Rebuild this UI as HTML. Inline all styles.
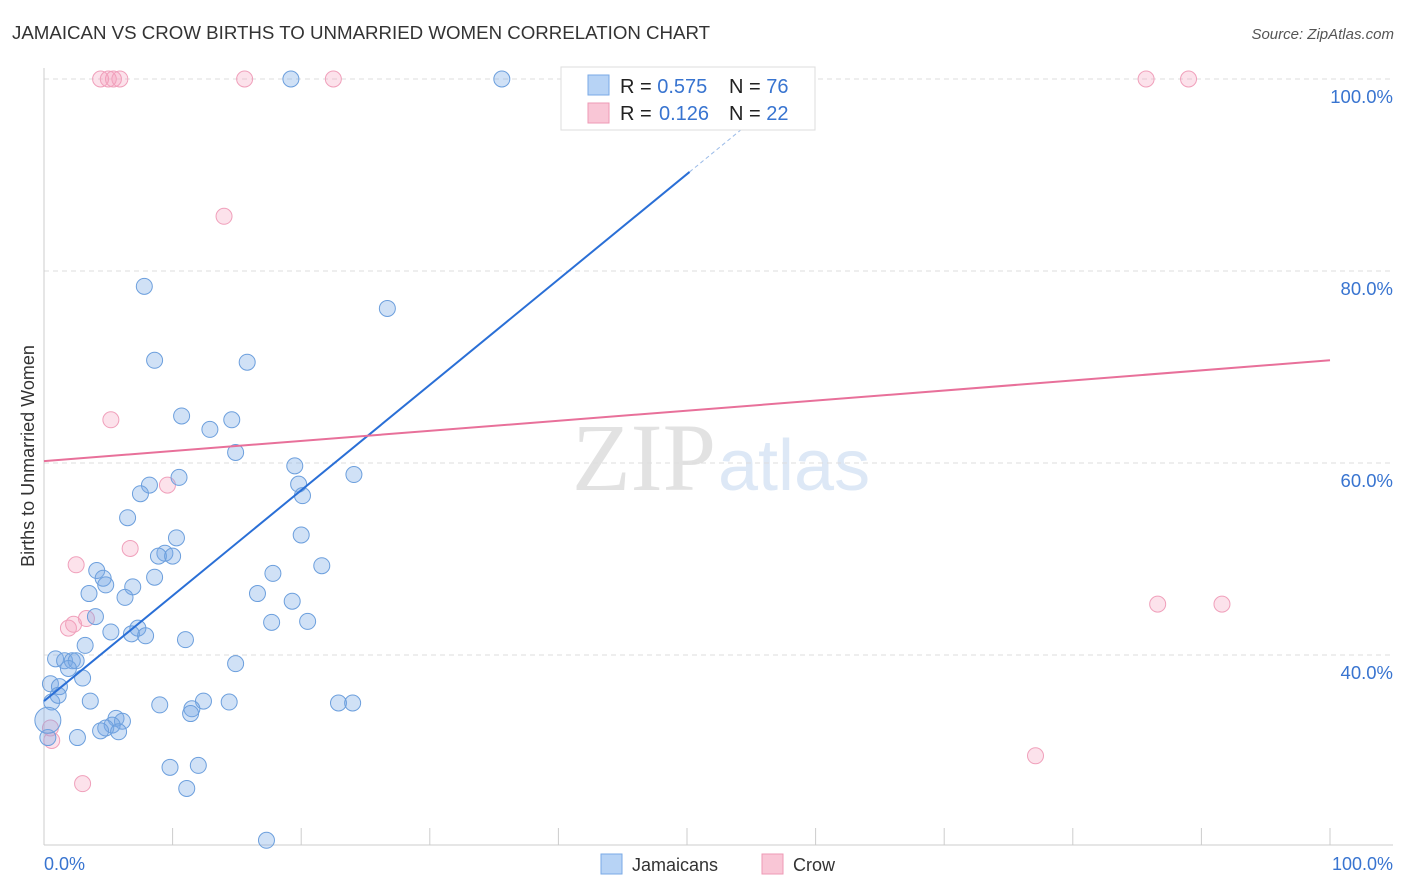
<!DOCTYPE html>
<html><head><meta charset="utf-8"><style>
body{margin:0;background:#fff;font-family:"Liberation Sans",sans-serif;}
svg{display:block}
</style></head><body>
<svg id="c" width="1406" height="892">
<text x="12" y="39" font-size="18.7" fill="#333">JAMAICAN VS CROW BIRTHS TO UNMARRIED WOMEN CORRELATION CHART</text>
<text x="1394" y="39" font-size="15" fill="#555" font-style="italic" text-anchor="end">Source: ZipAtlas.com</text>
<text x="716" y="490" font-size="96" fill="#e2e2e2" text-anchor="end" font-family="Liberation Serif,serif">ZIP</text>
<text x="718" y="490" font-size="72" fill="#dde8f6">atlas</text>
<text x="34" y="456" font-size="18" fill="#333" text-anchor="middle" transform="rotate(-90 34 456)">Births to Unmarried Women</text>
<g id="grid"></g><g id="pts"></g><g id="lines"></g>
<g>
<rect x="561" y="67" width="254" height="63" fill="#fff" stroke="#ddd"/>
<rect x="588" y="75" width="21" height="20" fill="#b7d3f5" stroke="#7aaae6"/>
<rect x="588" y="103" width="21" height="20" fill="#f9c6d6" stroke="#ee9ab5"/>
<text x="620" y="93" font-size="20" fill="#222">R = <tspan fill="#3874d0">0.575</tspan><tspan x="729">N = </tspan><tspan fill="#3874d0">76</tspan></text>
<text x="620" y="120" font-size="20" fill="#222">R = <tspan x="659" fill="#3874d0">0.126</tspan><tspan x="729">N = </tspan><tspan fill="#3874d0">22</tspan></text>
</g>
<g>
<rect x="601" y="854" width="21" height="20" fill="#b7d3f5" stroke="#7aaae6"/>
<text x="632" y="871" font-size="18" fill="#333">Jamaicans</text>
<rect x="762" y="854" width="21" height="20" fill="#f9c6d6" stroke="#ee9ab5"/>
<text x="793" y="871" font-size="18" fill="#333">Crow</text>
</g>
<text x="44" y="870" font-size="18" fill="#3874d0">0.0%</text>
<text x="1393" y="870" font-size="18" fill="#3874d0" text-anchor="end">100.0%</text>
</svg>
<script>
const yTicks=[100,80,60,40];
const yTickLabels=["100.0%","80.0%","60.0%","40.0%"];
const blueX=[19.2,35.6,7.8,26.7,8.6,15.8,10.7,14.6,12.9,14.9,19.5,10.5,24.1,8.2,7.5,19.8,20.1,6.5,20.0,10.3,9.4,8.9,10.0,21.6,4.1,17.8,4.6,8.6,4.8,6.9,3.5,16.6,6.3,19.3,4.0,17.7,20.5,5.2,7.3,6.8,7.9,11.0,3.2,0.9,1.6,2.2,2.5,1.9,14.9,3.0,0.5,1.2,3.6,9.0,14.4,12.4,11.5,11.4,22.9,24.0,5.6,6.1,5.3,4.8,4.4,5.8,2.6,0.3,9.8,12.0,11.1,17.3,0.6,1.1,0.3];
const blueY=[100,100,78.4,76.1,70.7,70.5,64.9,64.5,63.5,61.1,59.7,58.5,58.8,57.7,56.8,57.8,56.6,54.3,52.5,52.2,50.6,50.3,50.3,49.3,48.8,48.5,48.0,48.1,47.3,47.1,46.4,46.4,46.0,45.6,44.0,43.4,43.5,42.4,42.8,42.2,42.0,41.6,41.0,39.6,39.4,39.4,39.4,38.6,39.1,37.6,37.0,36.7,35.2,34.8,35.1,35.2,34.4,33.9,35.0,35.0,33.4,33.1,32.7,32.4,32.1,32.0,31.4,31.4,28.3,28.5,26.1,20.7,35.1,35.8,33.2];
const pinkX=[4.4,5.0,5.4,5.9,15.6,22.5,85.7,89.0,14.0,5.2,9.6,6.7,2.5,1.9,2.3,3.3,86.6,91.6,77.1,3.0,0.5,0.6];
const pinkY=[100,100,100,100,100,100,100,100,85.7,64.5,57.7,51.1,49.4,42.8,43.2,43.8,45.3,45.3,29.5,26.6,32.4,31.1];
const blueFit=[35.2,1.098];
const pinkFit=[60.2,0.105];
const X=v=>44+v*12.86, Y=v=>79+(100-v)*9.6;
const NS="http://www.w3.org/2000/svg";
function mk(t,a,p){const e=document.createElementNS(NS,t);for(const k in a)e.setAttribute(k,a[k]);p.appendChild(e);return e;}
const g=document.getElementById('grid');
yTicks.forEach((t,i)=>{
 const l=mk('line',{x1:44,x2:1393,y1:Y(t),y2:Y(t),stroke:'#ddd','stroke-dasharray':'5,4'},g);
 
 
 const tx=mk('text',{x:1393,y:Y(t)+24,'font-size':18.5,fill:'#3874d0','text-anchor':'end'},g);
 tx.textContent=yTickLabels[i];
 
 
});
mk('line',{x1:44,x2:44,y1:68,y2:845,stroke:'#ccc'},g);
mk('line',{x1:44,x2:1393,y1:845,y2:845,stroke:'#ccc'},g);
for(let i=0;i<=10;i++){const t=mk('line',{x1:X(i*10),x2:X(i*10),y1:828,y2:845,stroke:'#ccc'},g);
 
 }
const p=document.getElementById('pts');
pinkX.forEach((x,i)=>{const c=mk('circle',{cx:X(x),cy:Y(pinkY[i]),r:8,fill:'rgba(244,160,188,0.3)',stroke:'#f0a0bb','stroke-width':1},p);
 
 });
blueX.forEach((x,i)=>{const c=mk('circle',{cx:X(x),cy:Y(blueY[i]),r:i==blueX.length-1?13:8,fill:'rgba(120,170,230,0.35)',stroke:'#6c9fdd','stroke-width':1},p);
 
 });
const L=document.getElementById('lines');
const bl=mk('line',{x1:X(0),y1:Y(blueFit[0]),x2:X(50.2),y2:Y(blueFit[0]+blueFit[1]*50.2),stroke:'#2a6fd6','stroke-width':2},L);


const bd=mk('line',{x1:X(50.2),y1:Y(blueFit[0]+blueFit[1]*50.2),x2:X(55.5),y2:Y(blueFit[0]+blueFit[1]*55.5),stroke:'#9bbbe8','stroke-width':1,'stroke-dasharray':'4,3'},L);


const pl=mk('line',{x1:X(0),y1:Y(pinkFit[0]),x2:X(100),y2:Y(pinkFit[0]+pinkFit[1]*100),stroke:'#e8709a','stroke-width':2},L);


</script>
</body></html>
